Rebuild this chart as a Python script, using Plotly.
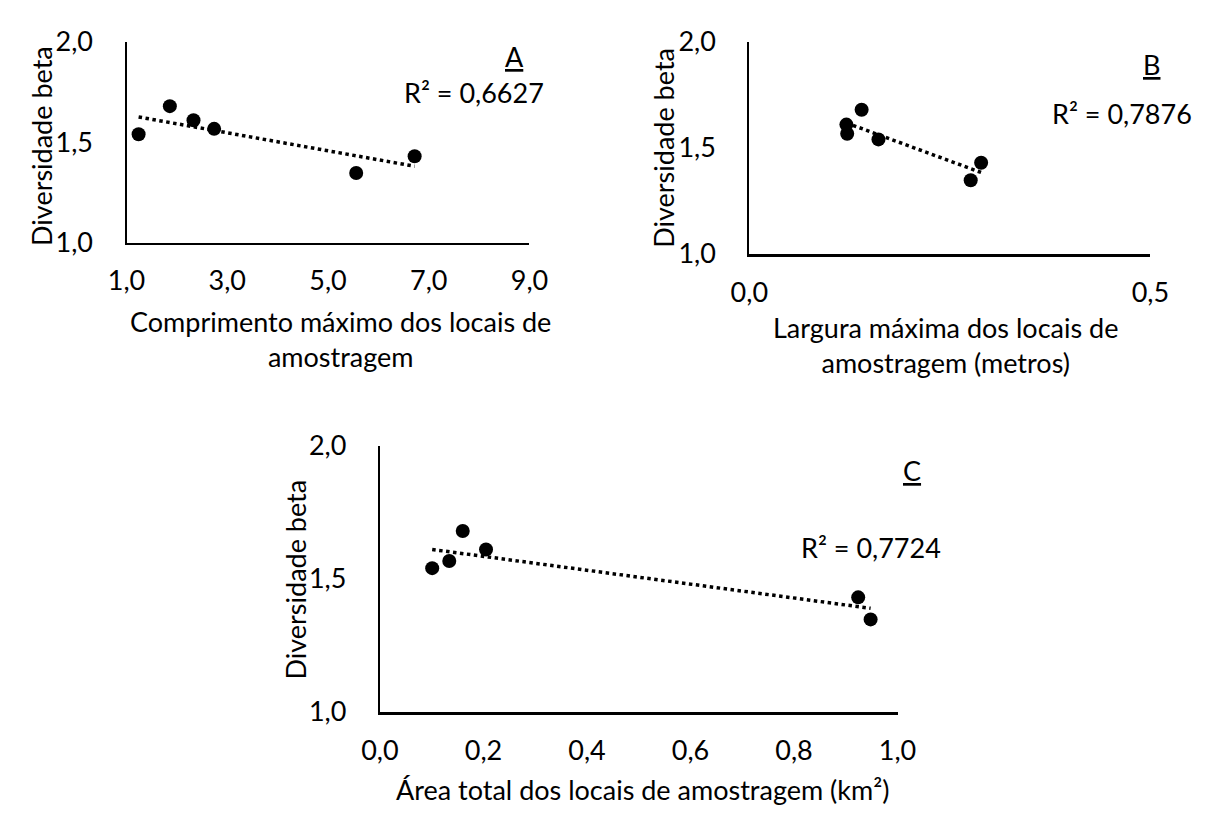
import numpy as np
import plotly.graph_objects as go

# ---- data ----
diversidade = [1.54, 1.567, 1.68, 1.61, 1.43, 1.347]
comprimento = [1.24, 2.74, 1.86, 2.33, 6.72, 5.56]
largura = [0.161, 0.122, 0.140, 0.121, 0.289, 0.276]
area = [0.101, 0.134, 0.160, 0.205, 0.924, 0.948]

r2_labels = ["R² = 0,6627", "R² = 0,7876", "R² = 0,7724"]
panel_labels = ["A", "B", "C"]

y_ticks = [1.0, 1.5, 2.0]
y_ticktext = ["1,0", "1,5", "2,0"]
a_ticks = [1, 3, 5, 7, 9]
a_ticktext = ["1,0", "3,0", "5,0", "7,0", "9,0"]
b_ticks = [0.0, 0.5]
b_ticktext = ["0,0", "0,5"]
c_ticks = [0.0, 0.2, 0.4, 0.6, 0.8, 1.0]
c_ticktext = ["0,0", "0,2", "0,4", "0,6", "0,8", "1,0"]

y_title = "Diversidade beta"
x_titles = [
    "Comprimento máximo dos locais de<br>amostragem",
    "Largura máxima dos locais de<br>amostragem (metros)",
    "Área total dos locais de amostragem (km²)",
]

W, H = 1211, 818
FONT = "Lato"
FS = 27


def fx(px):
    return px / W


def fy(py):
    return 1 - py / H


fig = go.Figure()

panels = [
    dict(xs=comprimento, xa="x", ya="y", xr=[1, 9], tv=a_ticks, tt=a_ticktext,
         dom_x=[fx(111), fx(527)], dom_y=[fy(234), fy(25)], lw=2.2),
    dict(xs=largura, xa="x2", ya="y2", xr=[0, 0.5], tv=b_ticks, tt=b_ticktext,
         dom_x=[fx(754), fx(1168)], dom_y=[fy(245.7), fy(25)], lw=2.6),
    dict(xs=area, xa="x3", ya="y3", xr=[0, 1.0], tv=c_ticks, tt=c_ticktext,
         dom_x=[fx(372.6), fx(907)], dom_y=[fy(722.7), fy(446)], lw=2.5),
]

layout = dict(
    width=W, height=H,
    margin=dict(l=0, r=0, t=0, b=0),
    paper_bgcolor="white", plot_bgcolor="white",
    showlegend=False,
    font=dict(family=FONT, size=FS, color="black"),
)

for i, p in enumerate(panels):
    xs = np.array(p["xs"], dtype=float)
    ys = np.array(diversidade, dtype=float)
    slope, intercept = np.polyfit(xs, ys, 1)
    lx = np.array([xs.min(), xs.max()])
    fig.add_trace(go.Scatter(x=lx, y=slope * lx + intercept, mode="lines",
                             line=dict(color="black", width=3.5, dash="dot"),
                             xaxis=p["xa"], yaxis=p["ya"], hoverinfo="skip"))
    fig.add_trace(go.Scatter(x=xs, y=ys, mode="markers",
                             marker=dict(color="black", size=14),
                             xaxis=p["xa"], yaxis=p["ya"]))
    suffix = "" if i == 0 else str(i + 1)
    layout["xaxis" + suffix] = dict(
        domain=p["dom_x"], range=p["xr"], anchor=p["ya"],
        tickvals=p["tv"], ticktext=p["tt"], showgrid=False, zeroline=False,
        showline=True, linecolor="black", linewidth=p["lw"], ticks="",
        ticklabelstandoff=13, tickfont=dict(family=FONT, size=FS, color="black"),
    )
    layout["yaxis" + suffix] = dict(
        domain=p["dom_y"], range=[1, 2], anchor=p["xa"],
        tickvals=y_ticks, ticktext=y_ticktext, showgrid=False, zeroline=False,
        showline=True, linecolor="black", linewidth=2.2, ticks="",
        ticklabelstandoff=26, tickfont=dict(family=FONT, size=FS, color="black"),
    )

fig.update_layout(**layout)

ann = []
# y-axis titles
for (xc, yc) in [(23, 133), (665, 135), (285, 585)]:
    ann.append(dict(x=fx(xc), y=fy(yc), xref="paper", yref="paper", text=y_title,
                    textangle=-90, showarrow=False, xanchor="center", yanchor="middle",
                    font=dict(family=FONT, size=FS, color="black")))
# x-axis titles
for t, (xc, yc) in zip(x_titles, [(332, 335), (957, 341), (644, 804)]):
    ann.append(dict(x=fx(xc), y=fy(yc), xref="paper", yref="paper", text=t,
                    showarrow=False, xanchor="center", yanchor="middle", align="center",
                    font=dict(family=FONT, size=FS, color="black")))
# panel letters
for t, (xc, yc) in zip(panel_labels, [(512, 40), (1169, 48), (922, 472)]):
    ann.append(dict(x=fx(xc), y=fy(yc), xref="paper", yref="paper", text="<u>" + t + "</u>",
                    showarrow=False, xanchor="center", yanchor="middle",
                    font=dict(family=FONT, size=FS, color="black")))
# R² labels
for t, (xc, yc) in zip(r2_labels, [(470, 78), (1139, 100), (880, 552)]):
    ann.append(dict(x=fx(xc), y=fy(yc), xref="paper", yref="paper", text=t,
                    showarrow=False, xanchor="center", yanchor="middle",
                    font=dict(family=FONT, size=FS, color="black")))

fig.update_layout(annotations=ann)
fig.write_html("out.html", config={"displayModeBar": False},
               post_script="document.body.style.margin='0px';")
